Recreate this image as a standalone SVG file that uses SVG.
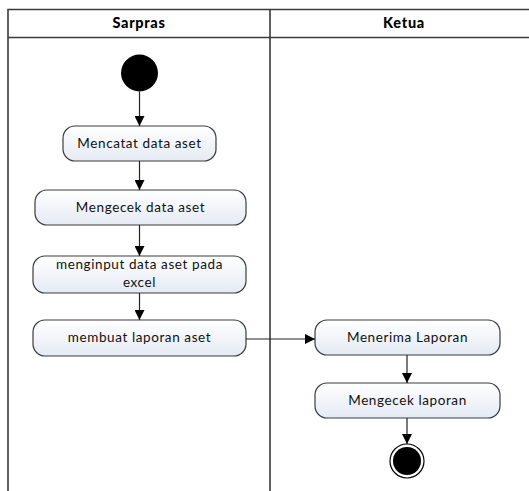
<svg xmlns="http://www.w3.org/2000/svg" width="529" height="491" viewBox="0 0 529 491">
<defs>
<linearGradient id="g" x1="0" y1="0" x2="0" y2="1">
<stop offset="0" stop-color="#ffffff"/>
<stop offset="1" stop-color="#e4eaf4"/>
</linearGradient>
<marker id="arr" viewBox="0 0 10 10" refX="10" refY="5" markerWidth="10" markerHeight="10" markerUnits="userSpaceOnUse" orient="auto">
<path d="M0,0 L10,5 L0,10 z" fill="#000"/>
</marker>
<style>
.lane{fill:none;stroke:#3a3a3a;stroke-width:1.6}
.hdr{font-family:Lato,"Open Sans","Liberation Sans",sans-serif;font-weight:900;font-size:14.5px;letter-spacing:0.7px;fill:#000;text-anchor:middle}
.act rect{fill:url(#g);stroke:#3c3c3c;stroke-width:1.2}
.act text{font-family:Lato,"Open Sans","Liberation Sans",sans-serif;font-size:13.5px;letter-spacing:0.6px;fill:#111;text-anchor:middle}
.con line,.con path{stroke:#222;stroke-width:1.2;fill:none;marker-end:url(#arr)}
</style>
</defs>
<rect width="529" height="491" fill="#fff"/>
<g id="swimlanes">
<path class="lane" d="M8,492 V9.5 H540 M8,37.5 H540 M270,9.5 V492"/>
<text class="hdr" x="139" y="28">Sarpras</text>
<text class="hdr" x="404" y="28">Ketua</text>
</g>
<g id="start"><circle cx="139.5" cy="73" r="18.5" fill="#000"/></g>
<g id="a1" class="act"><rect x="63" y="126" width="153" height="35" rx="12"/><text x="139.5" y="148">Mencatat data aset</text></g>
<g id="a2" class="act"><rect x="35" y="190" width="211" height="35" rx="12"/><text x="140.5" y="212">Mengecek data aset</text></g>
<g id="a3" class="act"><rect x="33" y="256" width="213" height="37" rx="12"/><text x="139.5" y="269">menginput data aset pada</text><text x="139.5" y="287">excel</text></g>
<g id="a4" class="act"><rect x="33" y="320" width="213" height="36" rx="12"/><text x="139.5" y="342">membuat laporan aset</text></g>
<g id="a5" class="act"><rect x="315" y="320" width="185" height="35" rx="12"/><text x="407.5" y="342">Menerima Laporan</text></g>
<g id="a6" class="act"><rect x="315" y="383" width="185" height="35" rx="12"/><text x="407.5" y="405">Mengecek laporan</text></g>
<g id="end"><circle cx="407" cy="461" r="17" fill="#fff" stroke="#000" stroke-width="1.2"/><circle cx="407" cy="461" r="14" fill="#000"/></g>
<g id="connectors" class="con">
<line x1="139.5" y1="91.5" x2="139.5" y2="126"/>
<line x1="139.5" y1="161" x2="139.5" y2="190"/>
<line x1="139.5" y1="225" x2="139.5" y2="256"/>
<line x1="139.5" y1="293" x2="139.5" y2="320"/>
<line x1="246" y1="339" x2="315" y2="339"/>
<line x1="407" y1="355" x2="407" y2="383"/>
<line x1="407" y1="418" x2="407" y2="444"/>
</g>
</svg>
